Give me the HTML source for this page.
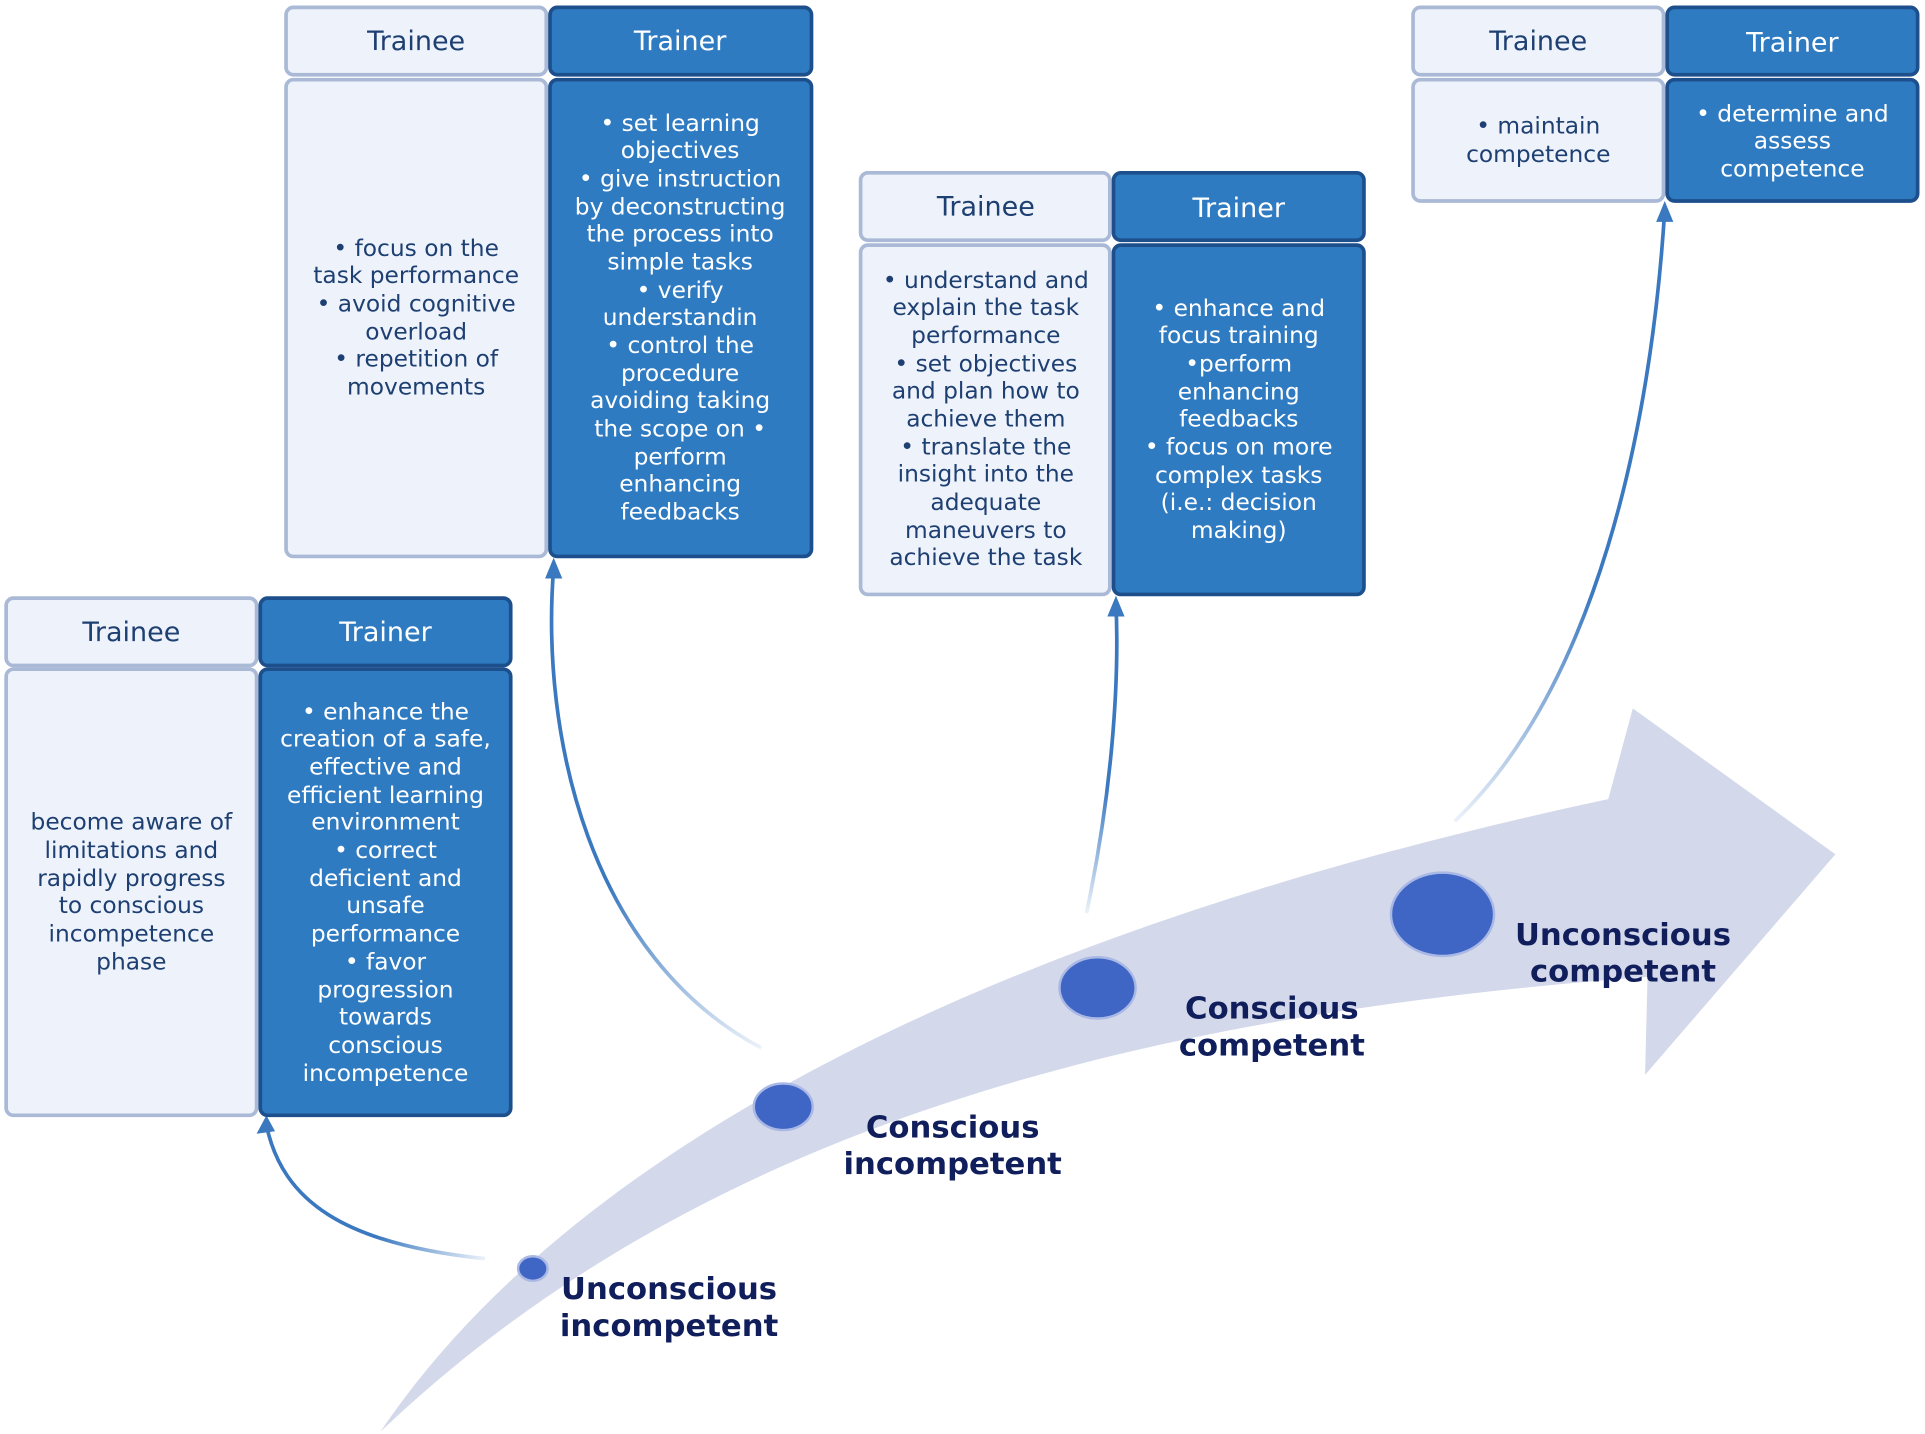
<!DOCTYPE html>
<html><head><meta charset="utf-8"><style>
html,body{margin:0;padding:0;background:#fff;}
svg{display:block}
text{font-family:"DejaVu Sans","Liberation Sans",sans-serif;}
.l{fill:#eef3fb;stroke:#a9b9d6;stroke-width:3}
.d{fill:#2f7bc2;stroke:#1d4f8c;stroke-width:3}
.tl{fill:#1e3f72;font-size:19px;text-anchor:middle}
.td{fill:#fff;font-size:19px;text-anchor:middle}
.hl{fill:#1e3f72;font-size:22px;text-anchor:middle}
.hd{fill:#fff;font-size:22px;text-anchor:middle}
.lab{fill:#101e5c;font-size:25px;font-weight:bold;text-anchor:middle}
</style></head><body>
<svg width="1925" height="1434" viewBox="0 0 1568 1170" preserveAspectRatio="none">
<defs>
<linearGradient id="g1" gradientUnits="userSpaceOnUse" x1="395" y1="1027" x2="217" y2="915"><stop offset="0" stop-color="#3a78c0" stop-opacity="0.1"/><stop offset="0.4" stop-color="#3a78c0"/></linearGradient>
<linearGradient id="g2" gradientUnits="userSpaceOnUse" x1="620" y1="855" x2="451" y2="460"><stop offset="0" stop-color="#3a78c0" stop-opacity="0.1"/><stop offset="0.4" stop-color="#3a78c0"/></linearGradient>
<linearGradient id="g3" gradientUnits="userSpaceOnUse" x1="885" y1="745" x2="909" y2="490"><stop offset="0" stop-color="#3a78c0" stop-opacity="0.1"/><stop offset="0.4" stop-color="#3a78c0"/></linearGradient>
<linearGradient id="g4" gradientUnits="userSpaceOnUse" x1="1185" y1="670" x2="1356" y2="168"><stop offset="0" stop-color="#3a78c0" stop-opacity="0.1"/><stop offset="0.4" stop-color="#3a78c0"/></linearGradient>
</defs>
<!-- big arrow -->
<path d="M310,1168 C450,960 760,770 1310,652 L1330,578 L1495,697 L1340,877 L1342,797 C900,830 560,930 310,1168 Z" fill="#d3d8ea"/>
<!-- connectors -->
<g fill="none" stroke-width="3">
<path d="M395,1027 C280,1015 230,980 217,918" stroke="url(#g1)"/>
<path d="M620,855 C480,780 440,600 451,463" stroke="url(#g2)"/>
<path d="M885,745 C905,650 912,560 909,493" stroke="url(#g3)"/>
<path d="M1185,670 C1300,560 1345,350 1356,171" stroke="url(#g4)"/>
</g>
<g fill="#3a78c0">
<path d="M217,910 L209,925 L224,923 Z"/>
<path d="M451,455 L444,472 L458,472 Z"/>
<path d="M909,486 L902,503 L916,503 Z"/>
<path d="M1356,164 L1349,181 L1363,181 Z"/>
</g>
<!-- circles -->
<g fill="#3f66c4" stroke="#aab8e6" stroke-width="2">
<ellipse cx="434" cy="1035" rx="12" ry="10"/>
<ellipse cx="638" cy="903" rx="24" ry="19"/>
<ellipse cx="894" cy="806" rx="31" ry="25"/>
<ellipse cx="1175" cy="746" rx="42" ry="34"/>
</g>
<text class="lab" x="545" y="1060">Unconscious</text><text class="lab" x="545" y="1090">incompetent</text>
<text class="lab" x="776" y="928">Conscious</text><text class="lab" x="776" y="958">incompetent</text>
<text class="lab" x="1036" y="831">Conscious</text><text class="lab" x="1036" y="861">competent</text>
<text class="lab" x="1322" y="771">Unconscious</text><text class="lab" x="1322" y="801">competent</text>
<!-- set 1 -->
<rect class="l" x="5" y="488" width="204" height="55" rx="6"/><rect class="d" x="212" y="488" width="204" height="55" rx="6"/>
<rect class="l" x="5" y="546" width="204" height="364" rx="6"/><rect class="d" x="212" y="546" width="204" height="364" rx="6"/>
<text class="hl" x="107" y="523">Trainee</text><text class="hd" x="314" y="523">Trainer</text>
<g class="tl"><text x="107" y="677">become aware of</text><text x="107" y="700">limitations and</text><text x="107" y="723">rapidly progress</text><text x="107" y="745">to conscious</text><text x="107" y="768">incompetence</text><text x="107" y="791">phase</text></g>
<g class="td"><text x="314" y="587">• enhance the</text><text x="314" y="609">creation of a safe,</text><text x="314" y="632">effective and</text><text x="314" y="655">efficient learning</text><text x="314" y="677">environment</text><text x="314" y="700">• correct</text><text x="314" y="723">deficient and</text><text x="314" y="745">unsafe</text><text x="314" y="768">performance</text><text x="314" y="791">• favor</text><text x="314" y="814">progression</text><text x="314" y="836">towards</text><text x="314" y="859">conscious</text><text x="314" y="882">incompetence</text></g>
<!-- set 2 -->
<rect class="l" x="233" y="6" width="212" height="55" rx="6"/><rect class="d" x="448" y="6" width="213" height="55" rx="6"/>
<rect class="l" x="233" y="65" width="212" height="389" rx="6"/><rect class="d" x="448" y="65" width="213" height="389" rx="6"/>
<text class="hl" x="339" y="41">Trainee</text><text class="hd" x="554" y="41">Trainer</text>
<g class="tl"><text x="339" y="209">• focus on the</text><text x="339" y="231">task performance</text><text x="339" y="254">• avoid cognitive</text><text x="339" y="277">overload</text><text x="339" y="299">• repetition of</text><text x="339" y="322">movements</text></g>
<g class="td"><text x="554" y="107">• set learning</text><text x="554" y="129">objectives</text><text x="554" y="152">• give instruction</text><text x="554" y="175">by deconstructing</text><text x="554" y="197">the process into</text><text x="554" y="220">simple tasks</text><text x="554" y="243">• verify</text><text x="554" y="265">understandin</text><text x="554" y="288">• control the</text><text x="554" y="311">procedure</text><text x="554" y="333">avoiding taking</text><text x="554" y="356">the scope on  •</text><text x="554" y="379">perform</text><text x="554" y="401">enhancing</text><text x="554" y="424">feedbacks</text></g>
<!-- set 3 -->
<rect class="l" x="701" y="141" width="203" height="55" rx="6"/><rect class="d" x="907" y="141" width="204" height="55" rx="6"/>
<rect class="l" x="701" y="200" width="203" height="285" rx="6"/><rect class="d" x="907" y="200" width="204" height="285" rx="6"/>
<text class="hl" x="803" y="176">Trainee</text><text class="hd" x="1009" y="177">Trainer</text>
<g class="tl"><text x="803" y="235">• understand and</text><text x="803" y="257">explain the task</text><text x="803" y="280">performance</text><text x="803" y="303">• set objectives</text><text x="803" y="325">and plan how to</text><text x="803" y="348">achieve them</text><text x="803" y="371">• translate the</text><text x="803" y="393">insight into the</text><text x="803" y="416">adequate</text><text x="803" y="439">maneuvers to</text><text x="803" y="461">achieve the task</text></g>
<g class="td"><text x="1009" y="258">• enhance and</text><text x="1009" y="280">focus training</text><text x="1009" y="303">•perform</text><text x="1009" y="326">enhancing</text><text x="1009" y="348">feedbacks</text><text x="1009" y="371">• focus on more</text><text x="1009" y="394">complex tasks</text><text x="1009" y="416">(i.e.: decision</text><text x="1009" y="439">making)</text></g>
<!-- set 4 -->
<rect class="l" x="1151" y="6" width="204" height="55" rx="6"/><rect class="d" x="1358" y="6" width="204" height="55" rx="6"/>
<rect class="l" x="1151" y="65" width="204" height="99" rx="6"/><rect class="d" x="1358" y="65" width="204" height="99" rx="6"/>
<text class="hl" x="1253" y="41">Trainee</text><text class="hd" x="1460" y="42">Trainer</text>
<g class="tl"><text x="1253" y="109">• maintain</text><text x="1253" y="132">competence</text></g>
<g class="td"><text x="1460" y="99">•  determine and</text><text x="1460" y="121">assess</text><text x="1460" y="144">competence</text></g>
</svg>
</body></html>
